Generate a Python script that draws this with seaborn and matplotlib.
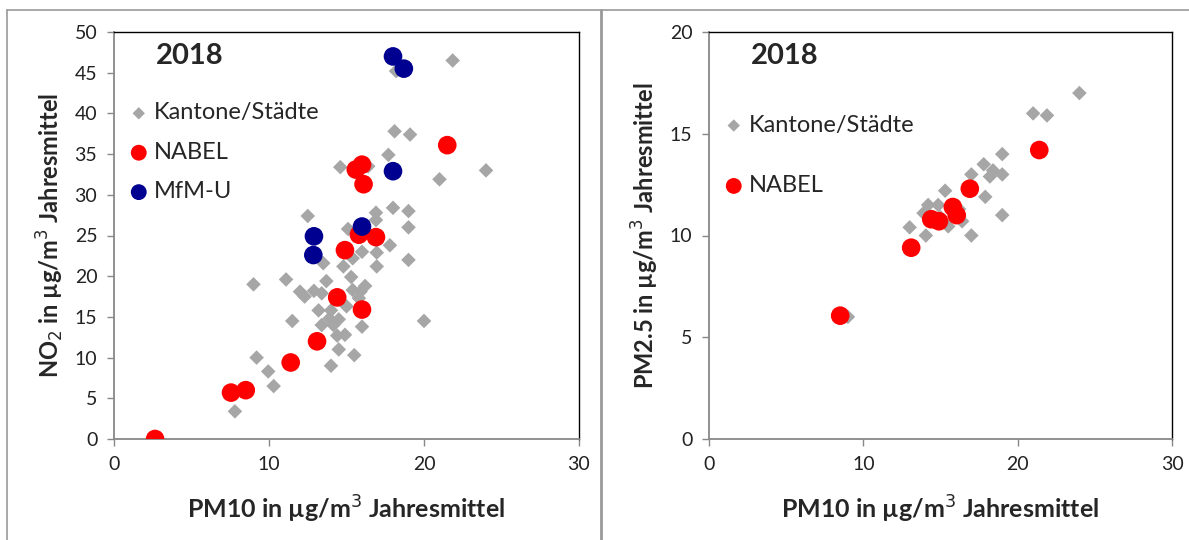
import pandas as pd
import matplotlib.pyplot as plt
from matplotlib.lines import Line2D
import seaborn as sns

# left panel: PM10 vs NO2
kant_pm10 = [21.85, 18.2, 18.1, 19.1, 17.7, 24.0, 21.0, 18.0, 19.0, 19.0, 17.8, 19.0, 20.0,
             14.6, 16.4, 12.5, 16.9, 16.9, 15.1, 16.0, 16.95, 15.4, 13.5, 16.95, 14.8,
             9.0, 11.1, 15.3, 13.7, 12.0, 12.3, 12.9, 13.4, 15.4, 16.2, 15.9, 15.0, 15.8,
             13.2, 14.0, 13.9, 14.5, 13.4, 14.15, 11.5, 16.0, 14.4, 14.9, 14.5, 15.5,
             14.0, 9.2, 9.95, 10.3, 7.8]
kant_no2 = [46.5, 45.2, 37.8, 37.4, 34.9, 33.0, 31.9, 28.4, 28.0, 26.0, 23.8, 22.0, 14.5,
            33.4, 33.5, 27.4, 27.8, 26.9, 25.8, 23.0, 22.9, 22.2, 21.6, 21.2, 21.2,
            19.0, 19.6, 19.9, 19.4, 18.1, 17.5, 18.2, 17.9, 18.3, 18.8, 18.1, 16.3, 17.3,
            15.8, 15.8, 14.8, 14.7, 14.0, 14.0, 14.5, 13.8, 12.7, 12.8, 11.0, 10.3,
            9.0, 10.0, 8.3, 6.5, 3.4]
nabel_pm10 = [2.65, 7.55, 8.5, 11.4, 13.1, 14.4, 16.0, 14.9, 15.6, 16.0, 16.1, 15.8, 16.9, 21.5]
nabel_no2 = [0.0, 5.7, 6.0, 9.4, 12.0, 17.4, 15.9, 23.2, 33.1, 33.7, 31.3, 25.1, 24.8, 36.1]
mfm_pm10 = [18.0, 18.7, 18.0, 12.9, 12.86, 16.0]
mfm_no2 = [47.0, 45.5, 32.9, 24.9, 22.6, 26.1]

# right panel: PM10 vs PM2.5
kant2_pm10 = [9.0, 13.0, 14.05, 13.9, 14.2, 14.85, 15.3, 15.5, 16.4, 17.0, 17.0, 17.8,
              17.9, 18.2, 18.4, 19.0, 19.0, 19.0, 21.0, 21.9, 24.0, 15.0, 16.2]
kant2_pm25 = [6.0, 10.4, 10.0, 11.1, 11.5, 11.5, 12.2, 10.45, 10.7, 13.0, 10.0, 13.5,
              11.9, 12.9, 13.2, 14.0, 13.0, 11.0, 16.0, 15.9, 17.0, 10.9, 11.3]
nabel2_pm10 = [8.5, 13.1, 14.4, 14.9, 15.8, 16.05, 16.9, 21.4]
nabel2_pm25 = [6.06, 9.4, 10.8, 10.7, 11.4, 11.0, 12.3, 14.2]

sns.set_style('white')
plt.rcParams['font.family'] = ['Lato', 'DejaVu Sans']

GRAY = '#a6a6a6'
RED = '#ff0000'
BLUE = '#000090'

fig = plt.figure(figsize=(11.89, 5.40), dpi=100)
ax1 = fig.add_axes([114/1189, 101/540, 465/1189, 407/540])
ax2 = fig.add_axes([709/1189, 101/540, 463/1189, 407/540])

def draw(ax, df_list):
    for df, lab, col, mk, s in df_list:
        sns.scatterplot(data=df, x='x', y='y', ax=ax, color=col, marker=mk, s=s,
                        edgecolor='none', linewidth=0, label=lab, zorder=3)

left = [
    (pd.DataFrame({'x': kant_pm10, 'y': kant_no2}), 'Kantone/Städte', GRAY, 'D', 55),
    (pd.DataFrame({'x': nabel_pm10, 'y': nabel_no2}), 'NABEL', RED, 'o', 180),
    (pd.DataFrame({'x': mfm_pm10, 'y': mfm_no2}), 'MfM-U', BLUE, 'o', 180),
]
right = [
    (pd.DataFrame({'x': kant2_pm10, 'y': kant2_pm25}), 'Kantone/Städte', GRAY, 'D', 55),
    (pd.DataFrame({'x': nabel2_pm10, 'y': nabel2_pm25}), 'NABEL', RED, 'o', 180),
]
draw(ax1, left)
draw(ax2, right)

for ax, ymax, ystep, ylab in [(ax1, 50, 5, 'NO$_2$ in µg/m$^3$ Jahresmittel'),
                              (ax2, 20, 5, 'PM2.5 in µg/m$^3$ Jahresmittel')]:
    ax.set_xlim(0, 30)
    ax.set_ylim(0, ymax)
    ax.set_xticks(range(0, 31, 10))
    ax.set_yticks(range(0, ymax + 1, ystep))
    ax.tick_params(direction='out', length=5, width=1, color='#888888',
                   labelsize=14, colors='#222222', pad=7)
    ax.tick_params(axis='both', which='both', left=True, bottom=True)
    for sp in ['left', 'bottom']:
        ax.spines[sp].set_color('#888888')
        ax.spines[sp].set_linewidth(1.3)
    for sp in ['top', 'right']:
        ax.spines[sp].set_color('black')
        ax.spines[sp].set_linewidth(1.0)
    ax.set_xlabel('PM10 in µg/m$^3$ Jahresmittel', fontsize=18, fontweight='bold', labelpad=15)
    ax.set_ylabel(ylab, fontsize=17, fontweight='bold', labelpad=6)
    ax.text(0.09, 0.94, '2018', transform=ax.transAxes, fontsize=21,
            fontweight='bold', va='center', ha='left')

ax1.legend(loc='upper left', bbox_to_anchor=(0.005, 0.85), frameon=False, fontsize=17,
           labelspacing=0.78, handletextpad=0.1, handlelength=1.1, markerscale=0.85,
           borderaxespad=0)
ax2.legend(loc='upper left', bbox_to_anchor=(0.005, 0.82), frameon=False, fontsize=17,
           labelspacing=1.67, handletextpad=0.1, handlelength=1.1, markerscale=0.85,
           borderaxespad=0)

# frame lines of the original picture
fig.add_artist(Line2D([7/1189, 7/1189], [0, 1 - 10/540], color='#999999', lw=1.2))
fig.add_artist(Line2D([7/1189, 1], [1 - 10/540, 1 - 10/540], color='#999999', lw=1.2))
fig.add_artist(Line2D([601/1189, 601/1189], [0, 1 - 10/540], color='#999999', lw=2))

fig.savefig('out.png', dpi=100)
